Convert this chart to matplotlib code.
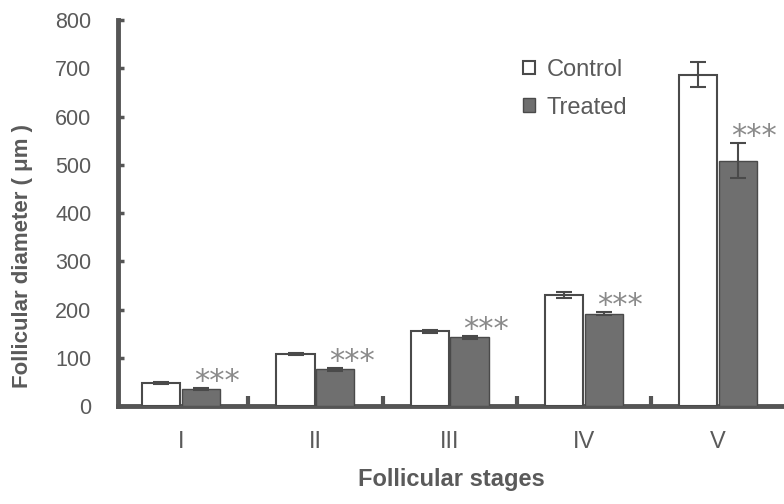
import numpy as np
import matplotlib
matplotlib.use("Agg")
import matplotlib.pyplot as plt

# data
stages     = ["I", "II", "III", "IV", "V"]
control    = [48, 108, 155, 231, 687]
control_er = [2, 2, 3, 6, 26]
treated    = [35, 77, 143, 192, 509]
treated_er = [2, 3, 3, 3, 36]
signif     = ["***", "***", "***", "***", "***"]
# -----------------------------------------------------

plt.rcParams['font.family'] = ['Liberation Sans', 'DejaVu Sans']

axc  = '#555555'
txtc = '#5a5a5a'

fig = plt.figure(figsize=(7.84, 5.04), dpi=100)
ax = fig.add_axes([0.1505, 0.194, 0.8495, 0.766])

x = np.arange(len(stages))
w = 0.285
off = 0.148

ekw = dict(ecolor='#4a4a4a', elinewidth=1.5, capsize=5.5, capthick=1.5)
ax.bar(x - off, control, w, color='white', edgecolor='#4a4a4a', lw=1.5,
       yerr=control_er, error_kw=ekw, label="Control", zorder=3)
ax.bar(x + off, treated, w, color='#6f6f6f', edgecolor='#4a4a4a', lw=1.0,
       yerr=treated_er, error_kw=ekw, label="Treated", zorder=3)

# significance stars
for xi, v, e, s in zip(x, treated, treated_er, signif):
    ax.annotate(s, (xi + off + w/2, v + e), xytext=(-2, -1.5), textcoords='offset points',
                ha='center', va='baseline', fontsize=22, color='#8a8a8a',
                family='DejaVu Sans')

ax.set_xlim(-0.47, 4.49)
ax.set_ylim(0, 800)
ax.set_yticks(np.arange(0, 801, 100))
ax.set_xticks(x)
ax.set_xticklabels(stages)
ax.set_xticks(x[:-1] + 0.5, minor=True)

for sp in ['top', 'right']:
    ax.spines[sp].set_visible(False)
for sp in ['left', 'bottom']:
    ax.spines[sp].set_color(axc)
    ax.spines[sp].set_linewidth(3.5)

ax.tick_params(axis='y', direction='in', length=4, width=2.5, color=axc,
               labelsize=15.5, labelcolor=txtc, pad=19)
ax.tick_params(axis='x', which='major', length=0, labelsize=17, labelcolor=txtc, pad=18)
ax.tick_params(axis='x', which='minor', direction='in', length=7, width=3, color=axc)

ax.set_ylabel("Follicular diameter ( μm )", fontsize=16, color=txtc, fontweight='bold')
ax.yaxis.set_label_coords(-0.128, 0.389)
ax.set_xlabel("Follicular stages", fontsize=17, color=txtc, fontweight='bold')
ax.xaxis.set_label_coords(0.5, -0.16)

leg = ax.legend(loc='upper left', bbox_to_anchor=(0.594, 0.924), frameon=False, fontsize=17,
                handlelength=0.5, handleheight=0.5, handletextpad=0.5, labelspacing=0.66,
                borderaxespad=0)
for t in leg.get_texts():
    t.set_color(txtc)

fig.savefig("out.png", dpi=100)
